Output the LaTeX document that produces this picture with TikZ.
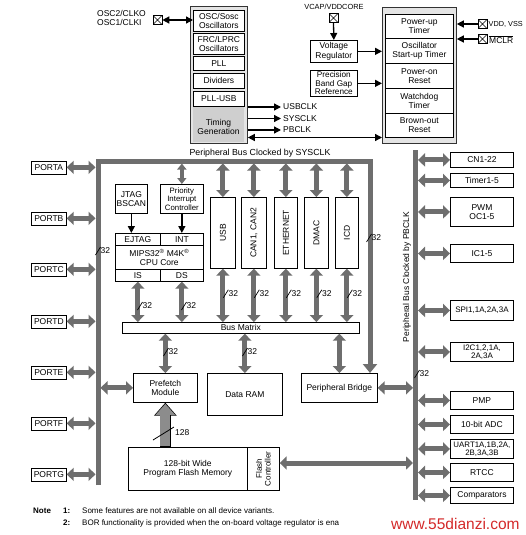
\documentclass[tikz,border=0pt]{standalone}
\usepackage{fontspec}
\setmainfont{Liberation Sans}
\usetikzlibrary{arrows.meta}
\definecolor{busgray}{HTML}{6E6E6E}
\definecolor{lightfill}{HTML}{E4E4E4}
\definecolor{tgfill}{HTML}{CFCFCF}
\definecolor{wmred}{HTML}{D42A2A}
\begin{document}
\begin{tikzpicture}[x=1pt,y=-1pt,
 fnt/.style={font=\fontsize{8.5}{9.2}\selectfont},
 sfnt/.style={font=\fontsize{7.8}{8.4}\selectfont},
 nfnt/.style={font=\fontsize{8}{9}\selectfont, inner sep=0pt},
 blk/.style={draw=black, line width=0.7pt, fill=white, inner sep=0pt, align=center, anchor=north west, fnt},
 pbox/.style={blk, line width=0.9pt, minimum width=63pt},
 port/.style={blk, minimum width=35pt, minimum height=13pt},
 modbox/.style={blk, minimum height=71pt},
 outerbox/.style={draw=black!80, line width=0.8pt, fill=lightfill, anchor=north west, inner sep=0pt},
 garrow/.style={draw=busgray, line width=5pt, {Triangle[width=13pt,length=7pt]}-{Triangle[width=13pt,length=7pt]}},
 sgarrow/.style={draw=busgray, line width=3.5pt, {Triangle[width=9pt,length=6pt]}-{Triangle[width=9pt,length=6pt]}},
 barrow/.style={draw=black, line width=1.3pt, -{Triangle[width=7pt,length=7pt]}},
 bdarrow/.style={draw=black, line width=1.3pt, {Triangle[width=7pt,length=7pt]}-{Triangle[width=7pt,length=7pt]}},
 xpin/.style={draw=black, line width=0.6pt, fill=white, minimum width=9pt, minimum height=9pt, inner sep=0pt,
   path picture={\draw[line width=0.5pt] (path picture bounding box.south west) -- (path picture bounding box.north east) (path picture bounding box.north west) -- (path picture bounding box.south east);}},
 lab/.style={fnt, inner sep=0pt},
 bw/.pic={\draw[line width=0.7pt] (-2.5,4) -- (2.5,-4); \node[lab, anchor=west] (-bwt) at (2.5,0) {32};}
]
\useasboundingbox (0,0) rectangle (526,535);
\fill[white] (0,0) rectangle (526,535);

% ---------------- clock block ----------------
\node[outerbox, minimum width=57pt, minimum height=137pt] (clk) at (190,6) {};
\node[blk, minimum width=51pt, minimum height=21pt] (osc) at (193,10) {OSC/Sosc\\Oscillators};
\node[blk, minimum width=51pt, minimum height=21pt] (frc) at (193,33) {FRC/LPRC\\Oscillators};
\node[blk, minimum width=51pt, minimum height=14pt] (pll) at (193,56) {PLL};
\node[blk, minimum width=51pt, minimum height=15pt] (divs) at (193,73) {Dividers};
\node[blk, minimum width=51pt, minimum height=15pt] (pllusb) at (193,91) {PLL-USB};
\node[anchor=north west, fill=tgfill, minimum width=51pt, minimum height=35pt, inner sep=0pt] (timing) at (193,107) {};
\node[lab, align=center] (tgtext) at (218.5,127) {Timing\\Generation};

\node[lab, anchor=west, align=left] (osclab) at (97,18) {OSC2/CLKO\\OSC1/CLKI};
\node[xpin] (oscx) at (157.5,20) {};
\draw[bdarrow] (oscx.east) -- (osc.west |- oscx.east);

\node[lab, anchor=west] (usbclk) at (283,107) {USBCLK};
\node[lab, anchor=west] (sysclk) at (283,118.5) {SYSCLK};
\node[lab, anchor=west] (pbclk) at (283,130) {PBCLK};
\draw[barrow, shorten >=2pt] (clk.east |- usbclk.west) -- (usbclk.west);
\draw[barrow, shorten >=2pt] (clk.east |- sysclk.west) -- (sysclk.west);
\draw[barrow, shorten >=2pt] (clk.east |- pbclk.west) -- (pbclk.west);

% ---------------- reset block ----------------
\node[outerbox, minimum width=74pt, minimum height=136pt] (rst) at (382,7) {};
\node[blk, minimum width=68pt, minimum height=24pt] (pup) at (385,14) {Power-up\\Timer};
\node[blk, minimum width=68pt, minimum height=25pt] (ost) at (385,38) {Oscillator\\Start-up Timer};
\node[blk, minimum width=68pt, minimum height=25pt] (por) at (385,63) {Power-on\\Reset};
\node[blk, minimum width=68pt, minimum height=25pt] (wdt) at (385,88) {Watchdog\\Timer};
\node[blk, minimum width=68pt, minimum height=24pt] (bor) at (385,113) {Brown-out\\Reset};

\coordinate (tgy) at (0,137.5);
\draw[bdarrow] (clk.east |- tgy) -- (rst.west |- tgy);

\node[lab, font=\fontsize{7.4}{8}\selectfont] (vcap) at (334,7) {VCAP/VDDCORE};
\node[xpin] (vcapx) at (333.5,18) {};
\node[blk, minimum width=47pt, minimum height=22pt] (vreg) at (310,40) {Voltage\\Regulator};
\node[blk, minimum width=47pt, minimum height=26pt, font=\fontsize{8.2}{8.4}\selectfont] (bgap) at (310,70) {Precision\\Band Gap\\Reference};
\draw[barrow] (vcapx.south) -- (vreg.north);
\draw[barrow] (vreg.east) -- (rst.west |- vreg.east);
\draw[barrow] (bgap.east) -- (rst.west |- bgap.east);

\node[xpin] (vddx) at (482.5,24) {};
\node[lab, anchor=west, font=\fontsize{7.3}{8}\selectfont] (vddl) at (488.5,24) {VDD, VSS};
\node[xpin] (mclrx) at (482.5,39) {};
\node[lab, anchor=west] (mclrl) at (489,39.5) {$\overline{\hbox{MCLR}}$};
\draw[barrow] (vddx.west) -- (rst.east |- vddx.west);
\draw[barrow] (mclrx.west) -- (rst.east |- mclrx.west);

% ---------------- SYSCLK bus ----------------
\node[lab, font=\fontsize{8.8}{9}\selectfont] (sysbuslab) at (260,153) {Peripheral Bus Clocked by SYSCLK};
\node[blk, minimum width=76pt, minimum height=29pt] (pbr) at (301,373) {Peripheral Bridge};
\coordinate (busBL) at (98,485);
\coordinate (busTL) at (98,161);
\coordinate (busTR) at (370,161);
\coordinate (busLedge) at (95.5,0);
\coordinate (busRedge) at (100.5,0);
\coordinate (busTin) at (0,163.5);
\draw[draw=busgray, line width=5pt, line join=miter, -{Triangle[width=14pt,length=9pt]}] (busBL) -- (busTL) -- (busTR) -- (busTR |- pbr.north);

% ports
\node[port] (porta) at (31,160.5) {PORTA};
\node[port] (portb) at (31,211.5) {PORTB};
\node[port] (portc) at (31,262.5) {PORTC};
\node[port] (portd) at (31,314.5) {PORTD};
\node[port] (porte) at (31,365.5) {PORTE};
\node[port] (portf) at (31,416.5) {PORTF};
\node[port] (portg) at (31,467.5) {PORTG};
\foreach \p in {porta,portb,portc,portd,porte,portf,portg}
  \draw[garrow] (\p.east) -- (\p.east -| busLedge);
\pic at (98,251) {bw};

% CPU
\node[blk, minimum width=32pt, minimum height=29pt] (jtag) at (115,184) {JTAG\\BSCAN};
\node[blk, minimum width=43pt, minimum height=29pt, sfnt] (pic) at (160,184) {Priority\\Interrupt\\Controller};
\node[blk, minimum width=45pt, minimum height=12pt] (ejtag) at (115,233) {EJTAG};
\node[blk, minimum width=43pt, minimum height=12pt] (int) at (160,233) {INT};
\node[blk, minimum width=88pt, minimum height=24pt] (core) at (115,245) {MIPS32\textsuperscript{®} M4K\textsuperscript{®}\\CPU Core};
\node[blk, minimum width=45pt, minimum height=12pt] (is) at (115,269) {IS};
\node[blk, minimum width=43pt, minimum height=12pt] (ds) at (160,269) {DS};
\draw[sgarrow] (pic.north |- busTin) -- (pic.north);
\draw[barrow] (jtag.south) -- (jtag.south |- ejtag.north);
\draw[barrow] (pic.south) -- (pic.south |- int.north);

% bus matrix
\node[blk, minimum width=237pt, minimum height=11pt] (bm) at (122,322) {Bus Matrix};
\draw[garrow] (is.south) -- (is.south |- bm.north);
\draw[garrow] (ds.south) -- (ds.south |- bm.north);
\pic at (140,306) {bw};
\pic at (184,306) {bw};

% peripheral modules
\node[modbox, minimum width=25pt] (usb) at (210,197) {\rotatebox{90}{USB}};
\node[modbox, minimum width=25pt] (can) at (241,197) {\rotatebox{90}{CAN1, CAN2}};
\node[modbox, minimum width=23pt] (eth) at (274,197) {\rotatebox{90}{ETHERNET}};
\node[modbox, minimum width=24pt] (dmac) at (304,197) {\rotatebox{90}{DMAC}};
\node[modbox, minimum width=23pt] (icd) at (335,197) {\rotatebox{90}{ICD}};
\foreach \m in {usb,can,eth,dmac,icd}{
  \draw[garrow] (\m.north |- busTin) -- (\m.north);
  \draw[garrow] (\m.south) -- (\m.south |- bm.north);
  \path (\m.south) ++(3,25) pic {bw};
}
\pic at (369,238) {bw};

% lower blocks
\node[blk, minimum width=64pt, minimum height=29pt] (pref) at (133,373) {Prefetch\\Module};
\node[blk, minimum width=75pt, minimum height=42pt] (dram) at (207,373) {Data RAM};
\draw[garrow] (bm.south -| pref.north) -- (pref.north);
\draw[garrow] (bm.south -| dram.north) -- (dram.north);
\draw[garrow] (bm.south -| pbr.north) -- (pbr.north);
\pic at (166,352) {bw};
\pic at (245,352) {bw};
\draw[garrow] (busRedge |- pref.west) -- (pref.west);

% flash
\node[blk, minimum width=119pt, minimum height=43pt] (flash) at (128,447) {128-bit Wide\\Program Flash Memory};
\node[blk, minimum width=32pt, minimum height=43pt, font=\fontsize{8}{9}\selectfont] (fctl) at (247,447) {\rotatebox{90}{\shortstack{Flash\\Controller}}};
\draw[line width=11.4pt, black, -{Triangle[width=22pt,length=13pt]}] (flash.north -| pref.south) -- (pref.south);
\draw[line width=10pt, black!45, -{Triangle[width=19pt,length=11pt]}, shorten >=1.2pt, shorten <=0.7pt] (flash.north -| pref.south) -- (pref.south);
\draw[line width=0.8pt] (153,440) -- (174,427);
\node[lab, anchor=west] (l128) at (175,433) {128};

% PB bus
\coordinate (pbTop) at (415.5,150);
\coordinate (pbBot) at (415.5,500);
\coordinate (pbL) at (413,0);
\coordinate (pbR) at (418,0);
\draw[busgray, line width=5pt] (pbTop) -- (pbBot);
\node[lab, rotate=90, font=\fontsize{8.5}{9}\selectfont] (pblab) at (407,277) {Peripheral Bus Clocked by PBCLK};
\pic at (417,374) {bw};
\draw[garrow] (pbr.east) -- (pbL |- pbr.east);
\coordinate (fy) at (0,463);
\draw[garrow] (fctl.east |- fy) -- (pbL |- fy);

% right peripherals
\node[pbox, minimum height=15pt] (cn) at (450,152) {CN1-22};
\node[pbox, minimum height=14pt] (tmr) at (450,173) {Timer1-5};
\node[pbox, minimum height=29pt] (pwm) at (450,197) {PWM\\OC1-5};
\node[pbox, minimum height=18pt] (ic) at (450,244) {IC1-5};
\node[pbox, minimum height=20pt, font=\fontsize{8}{8.6}\selectfont] (spi) at (450,300) {SPI1,1A,2A,3A};
\node[pbox, minimum height=19pt, font=\fontsize{8}{8.2}\selectfont] (i2c) at (450,342) {I2C1,2,1A,\\2A,3A};
\node[pbox, minimum height=18pt] (pmp) at (450,391) {PMP};
\node[pbox, minimum height=18pt] (adc) at (450,415) {10-bit ADC};
\node[pbox, minimum height=19pt, font=\fontsize{7.9}{8.2}\selectfont] (uart) at (450,439) {UART1A,1B,2A,\\2B,3A,3B};
\node[pbox, minimum height=18pt] (rtcc) at (450,463) {RTCC};
\node[pbox, minimum height=16pt] (comp) at (450,487) {Comparators};
\foreach \b in {cn,tmr,pwm,ic,spi,i2c,pmp,adc,uart,rtcc,comp}
  \draw[garrow] (pbR |- \b.west) -- (\b.west);

% notes
\node[nfnt, anchor=west] (note) at (33,511) {\textbf{Note}};
\node[nfnt, anchor=west] (n1) at (63,511) {\textbf{1:}};
\node[nfnt, anchor=west] (n1t) at (82,511) {Some features are not available on all device variants.};
\node[nfnt, anchor=west] (n2) at (63,523) {\textbf{2:}};
\node[nfnt, anchor=west] (n2t) at (82,523) {BOR functionality is provided when the on-board voltage regulator is ena};
\node[font=\fontsize{15.5}{16}\selectfont, text=wmred, anchor=west, fill=white, inner sep=1pt] (wm) at (390,524) {www.55dianzi.com};
\end{tikzpicture}
\end{document}
